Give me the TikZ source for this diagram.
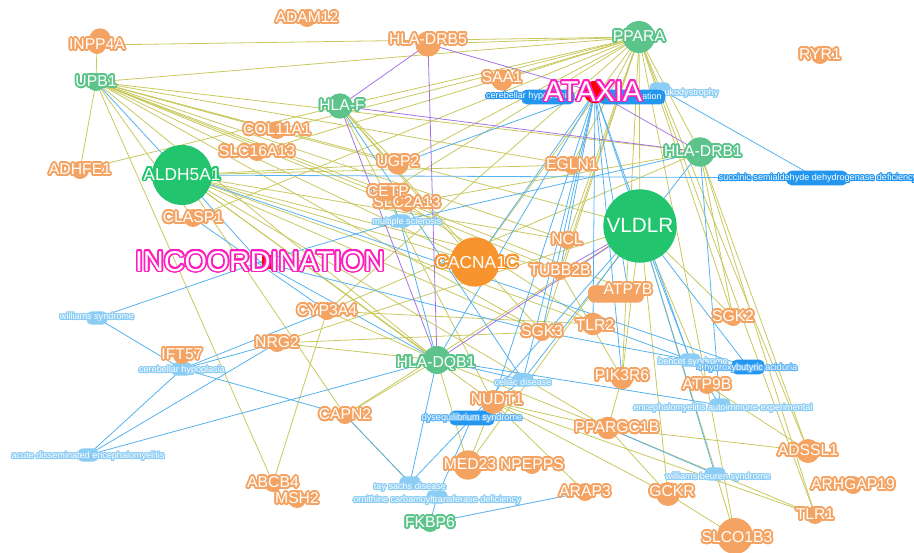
\documentclass[tikz,border=0pt]{standalone}
\usepackage{fontspec}
\setmainfont{Liberation Sans}
\usepackage{contour}
\contournumber{24}
\contourlength{1.2pt}

\definecolor{gor}{RGB}{244,163,98}
\definecolor{gorbig}{RGB}{247,148,45}
\definecolor{ggr}{RGB}{92,196,138}
\definecolor{ggrbig}{RGB}{34,197,110}
\definecolor{dlt}{RGB}{140,205,245}
\definecolor{dmid}{RGB}{95,180,245}
\definecolor{ddk}{RGB}{35,150,240}
\definecolor{phm}{RGB}{255,30,190}
\definecolor{eyel}{RGB}{200,200,95}
\definecolor{eblu}{RGB}{85,178,240}
\definecolor{epur}{RGB}{165,115,230}

\pgfdeclarelayer{edges}
\pgfsetlayers{edges,main}

\tikzset{
  odot/.style={circle, fill=gor, inner sep=0pt, minimum size=#1},
  odot/.default=13.5pt,
  gdot/.style={circle, fill=ggr, inner sep=0pt, minimum size=#1},
  gdot/.default=13.5pt,
  dblob/.style={rounded corners=4pt, fill=dlt, inner sep=0pt, minimum width=16pt, minimum height=10pt},
  dbox/.style={rounded corners=4pt, fill=ddk, inner sep=0pt, minimum width=#1, minimum height=11pt},
  gtxt/.style={text=white, inner sep=0pt, font=\fontsize{11.8}{12}\selectfont,
    execute at begin node={\contourlength{1.3pt}}},
  dtxt/.style={text=white, inner sep=0pt, font=\fontsize{6.8}{7}\selectfont,
    execute at begin node={\contourlength{0.8pt}}},
  ptxt/.style={text=white, inner sep=0pt, font=\fontsize{21.5}{22}\selectfont,
    execute at begin node={\contourlength{1.2pt}}},
  yel/.style={draw=eyel, line width=0.6pt},
  blu/.style={draw=eblu, line width=0.6pt},
  pur/.style={draw=epur, line width=0.6pt}
}

\begin{document}
\begin{tikzpicture}[x=0.75pt, y=-0.75pt]
  \useasboundingbox (0,0) rectangle (914,553);

  % Disease labels (blue)
  \node[dblob] (wsyn) at (97,318) {};
  \node[dtxt] at (wsyn) {\contour{dlt}{williams syndrome}};
  \node[dblob] (cerhypb) at (182,369) {};
  \node[dtxt] at (182,371) {\contour{dlt}{cerebellar hypoplasia}};
  \node[dblob] (adem) at (88,455) {};
  \node[dtxt] at (88,457) {\contour{dlt}{acute disseminated encephalomyelitis}};
  \node[dblob] (ms) at (400,221) {};
  \node[dtxt] at (407,223) {\contour{dlt}{multiple sclerosis}};
  \node[dblob] (celiac) at (523,380) {};
  \node[dtxt] at (523,383) {\contour{dlt}{celiac disease}};
  \node[dblob] (tay) at (410,483) {};
  \node[dtxt] at (410,488) {\contour{dlt}{tay sachs disease}};
  \node[dblob] (otc) at (437,497) {};
  \node[dtxt] at (437,501) {\contour{dlt}{ornithine carbamoyltransferase deficiency}};
  \node[dblob] (wbs) at (715,474) {};
  \node[dtxt] at (718,478) {\contour{dlt}{williams beuren syndrome}};
  \node[dblob] (eae) at (720,405) {};
  \node[dtxt] at (723,409) {\contour{dlt}{encephalomyelitis autoimmune experimental}};
  \node[dblob] (behcet) at (690,360) {};
  \node[dtxt] at (693,363) {\contour{dlt}{behcet syndrome}};
  \node[dbox=25pt] (hba) at (748,367) {};
  \node[dtxt] at (747,369) {\contour{dmid}{4 hydroxybutyric aciduria}};
  \node[dbox=34pt] (dyseq) at (472,418) {};
  \node[dtxt] at (472,419) {\contour{dmid}{dysequilibrium syndrome}};
  \node[dbox=46pt] (succ) at (817,178) {};
  \node[dtxt] at (818,179) {\contour{ddk}{succinic semialdehyde dehydrogenase deficiency}};
  \node[dblob] (leuko) at (660,89) {};
  \node[dtxt] at (688,94) {\contour{dlt}{leukodystrophy}};
  \node[dbox=50pt] (ation) at (632,97) {};
  \node[dtxt, anchor=east] at (662,97) {\contour{ddk}{ation}};
  \node[dbox=40pt] (cerhypa) at (548,97) {};
  \node[dtxt] at (529,97) {\contour{ddk}{cerebellar hypoplasia}};

  % Genes (orange)
  \node[odot] (adam) at (307,18) {};
  \node[gtxt] at (adam) {\contour{gor}{ADAM12}};
  \node[odot=16pt] (hidden1) at (100,39) {};
  \node[odot] (inpp) at (97,45) {};
  \node[gtxt] at (inpp) {\contour{gor}{INPP4A}};
  \node[odot=19pt] (drb5) at (428,44) {};
  \node[gtxt] at (428,40) {\contour{gor}{HLA-DRB5}};
  \node[odot=16pt] (saa) at (502,80) {};
  \node[gtxt] at (502,78) {\contour{gor}{SAA1}};
  \node[odot] (col) at (277,130) {};
  \node[gtxt] at (col) {\contour{gor}{COL11A1}};
  \node[odot] (slcsixteen) at (257,152) {};
  \node[gtxt] at (slcsixteen) {\contour{gor}{SLC16A13}};
  \node[odot] (adhfe) at (80,170) {};
  \node[gtxt] at (adhfe) {\contour{gor}{ADHFE1}};
  \node[odot=16pt] (ugp) at (398,164) {};
  \node[gtxt] at (398,162) {\contour{gor}{UGP2}};
  \node[odot] (egln) at (572,165) {};
  \node[gtxt] at (egln) {\contour{gor}{EGLN1}};
  \node[odot] (slctwo) at (407,203) {};
  \node[gtxt] at (slctwo) {\contour{gor}{SLC2A13}};
  \node[odot] (cetp) at (388,192) {};
  \node[gtxt] at (cetp) {\contour{gor}{CETP}};
  \node[odot] (clasp) at (193,218) {};
  \node[gtxt] at (clasp) {\contour{gor}{CLASP1}};
  \node[odot] (ncl) at (567,240) {};
  \node[gtxt] at (ncl) {\contour{gor}{NCL}};
  \node[odot] (tubb) at (560,271) {};
  \node[gtxt] at (tubb) {\contour{gor}{TUBB2B}};
  \node[odot=37pt, fill=gorbig] (cacna) at (475,262) {};
  \node[gtxt, font=\fontsize{13}{13}\selectfont] at (477,263) {\contour{gorbig}{CACNA1C}};
  \node[rounded corners=5pt, fill=gor, minimum width=42pt, minimum height=13pt] (hidden2) at (616,294) {};
  \node[odot] (atp7b) at (628,290) {};
  \node[gtxt] at (atp7b) {\contour{gor}{ATP7B}};
  \node[odot] (cyp) at (327,311) {};
  \node[gtxt] at (cyp) {\contour{gor}{CYP3A4}};
  \node[odot] (nrg) at (277,343) {};
  \node[gtxt] at (nrg) {\contour{gor}{NRG2}};
  \node[odot] (sgkthree) at (542,332) {};
  \node[gtxt] at (sgkthree) {\contour{gor}{SGK3}};
  \node[odot=17pt] (tlrtwo) at (593,324) {};
  \node[gtxt] at (595,326) {\contour{gor}{TLR2}};
  \node[odot] (sgktwo) at (733,317) {};
  \node[gtxt] at (sgktwo) {\contour{gor}{SGK2}};
  \node[odot] (ift) at (182,355) {};
  \node[gtxt] at (ift) {\contour{gor}{IFT57}};
  \node[odot=17pt] (pik) at (622,378) {};
  \node[gtxt] at (622,376) {\contour{gor}{PIK3R6}};
  \node[odot] (atpnine) at (707,385) {};
  \node[gtxt] at (atpnine) {\contour{gor}{ATP9B}};
  \node[odot=18pt] (nudt) at (493,402) {};
  \node[gtxt] at (497,400) {\contour{gor}{NUDT1}};
  \node[odot] (capn) at (345,415) {};
  \node[gtxt] at (capn) {\contour{gor}{CAPN2}};
  \node[odot=17pt] (ppargc) at (608,428) {};
  \node[gtxt] at (617,428) {\contour{gor}{PPARGC1B}};
  \node[odot=18pt] (adssl) at (808,451) {};
  \node[gtxt] at (adssl) {\contour{gor}{ADSSL1}};
  \node[odot=22pt] (med) at (468,465) {};
  \node[gtxt] at (470,465) {\contour{gor}{MED23}};
  \node[odot] (npepps) at (532,465) {};
  \node[gtxt] at (npepps) {\contour{gor}{NPEPPS}};
  \node[odot] (abcb) at (273,483) {};
  \node[gtxt] at (abcb) {\contour{gor}{ABCB4}};
  \node[odot] (msh) at (297,499) {};
  \node[gtxt] at (msh) {\contour{gor}{MSH2}};
  \node[odot] (arap) at (585,492) {};
  \node[gtxt] at (arap) {\contour{gor}{ARAP3}};
  \node[odot] (arhgap) at (853,485) {};
  \node[gtxt] at (arhgap) {\contour{gor}{ARHGAP19}};
  \node[odot=18pt] (gckr) at (668,494) {};
  \node[gtxt] at (672,492) {\contour{gor}{GCKR}};
  \node[odot] (tlrone) at (815,515) {};
  \node[gtxt] at (tlrone) {\contour{gor}{TLR1}};
  \node[odot=27pt] (slco) at (735,536) {};
  \node[gtxt] at (737,538) {\contour{gor}{SLCO1B3}};
  \node[odot] (ryr) at (820,55) {};
  \node[gtxt] at (ryr) {\contour{gor}{RYR1}};

  % Genes (green)
  \node[gdot=24pt] (ppara) at (639,37) {};
  \node[gtxt] at (ppara) {\contour{ggr}{PPARA}};
  \node[gdot] (upb) at (96,82) {};
  \node[gtxt] at (upb) {\contour{ggr}{UPB1}};
  \node[gdot=19pt] (hlaf) at (340,106) {};
  \node[gtxt] at (342,106) {\contour{ggr}{HLA-F}};
  \node[gdot=22pt] (drbone) at (700,152) {};
  \node[gtxt] at (703,152) {\contour{ggr}{HLA-DRB1}};
  \node[gdot=45pt, fill=ggrbig] (aldh) at (182,175) {};
  \node[gtxt, font=\fontsize{13}{13}\selectfont] at (aldh) {\contour{ggrbig}{ALDH5A1}};
  \node[gdot=55pt, fill=ggrbig] (vldlr) at (640,226) {};
  \node[gtxt, font=\fontsize{15.5}{16}\selectfont] at (vldlr) {\contour{ggrbig}{VLDLR}};
  \node[gdot=21pt] (dqb) at (437,360) {};
  \node[gtxt] at (436,364) {\contour{ggr}{HLA-DQB1}};
  \node[gdot] (fkbp) at (430,523) {};
  \node[gtxt] at (fkbp) {\contour{ggr}{FKBP6}};

  % Phenotypes
  \fill[red] (262,255) rectangle (271,269);
  \node[inner sep=0pt] (incoord) at (260,262) {};
  \node[ptxt] at (incoord) {\contour{phm}{INCOORDINATION}};
  \node[circle, fill=red, inner sep=0pt, minimum size=17pt] (ataxia) at (595,92) {};
  \node[ptxt] at (593,92) {\contour{phm}{ATAXIA}};

  % Connectors
  \begin{pgfonlayer}{edges}
    \foreach \a/\b in {upb/inpp, upb/adhfe, upb/ppara, inpp/ppara, adhfe/hlaf, upb/abcb,
        upb/col, upb/ugp, upb/cetp, upb/cacna, upb/ncl, upb/vldlr, upb/drbone, upb/sgkthree,
        upb/dqb, upb/tubb, upb/atp7b, upb/egln, upb/clasp,
        ppara/hlaf, ppara/drb5, ppara/saa, ppara/slcsixteen, ppara/clasp, ppara/ugp, ppara/egln,
        ppara/cetp, ppara/drbone, ppara/vldlr, ppara/tubb, ppara/ncl, ppara/sgktwo, ppara/adssl,
        ppara/tlrone, ppara/atpnine, ppara/pik, ppara/cyp, ppara/sgkthree, ppara/cacna, ppara/col,
        aldh/dqb, aldh/cacna, aldh/ncl, aldh/sgkthree, aldh/nudt, aldh/tlrtwo, aldh/capn, aldh/ugp,
        aldh/egln, aldh/ppargc, aldh/tubb,
        hlaf/ugp, hlaf/cacna, hlaf/sgkthree, hlaf/nudt,
        drbone/adssl, drbone/tlrone, drbone/sgktwo, drbone/cyp, drbone/slctwo,
        vldlr/sgktwo, vldlr/atpnine, vldlr/pik, vldlr/gckr, vldlr/slco, vldlr/med, vldlr/nrg,
        vldlr/capn,
        dqb/cyp, dqb/nrg, dqb/capn, dqb/ppargc, dqb/med,
        pik/ppargc, ppargc/gckr, ppargc/adssl, ppargc/tlrone, atpnine/slco, atpnine/adssl,
        gckr/slco, nudt/gckr, nudt/arap, nudt/med, nudt/ppargc, nudt/tlrone, abcb/cyp,
        capn/tay, cyp/tlrtwo, nrg/sgkthree, tubb/pik, cetp/tlrtwo}
      \draw[yel] (\a.center) -- (\b.center);
    \foreach \a/\b in {upb/aldh, aldh/succ, aldh/incoord, wsyn/incoord, wsyn/cerhypb,
        cerhypb/nrg, cerhypb/cyp, cerhypb/capn, adem/cerhypb, adem/nrg, adem/dqb,
        ataxia/vldlr, ataxia/dqb, ataxia/celiac, ataxia/nudt, ataxia/sgkthree, ataxia/tlrtwo,
        ataxia/pik, ataxia/behcet, ataxia/atp7b, ataxia/tubb, ataxia/cacna, ataxia/ugp,
        leuko/succ, hlaf/celiac, ms/dqb, ms/cetp, ms/drbone, ms/incoord,
        celiac/dqb, celiac/drbone, celiac/nudt, dyseq/vldlr, dyseq/tay, dyseq/nudt, dyseq/otc,
        behcet/tlrtwo, behcet/sgkthree, behcet/vldlr, hba/aldh, hba/vldlr,
        eae/atpnine, eae/dqb, eae/drbone, wbs/ppargc, wbs/vldlr, tay/dqb, otc/fkbp,
        fkbp/arap, tay/capn, clasp/cyp, incoord/sgkthree, incoord/dqb}
      \draw[blu] (\a.center) -- (\b.center);
    \foreach \a/\b in {drb5/hlaf, drb5/ataxia, drb5/dqb, hlaf/dqb, hlaf/drbone,
        ataxia/drbone, dqb/vldlr, tubb/vldlr}
      \draw[pur] (\a.center) -- (\b.center);
  \end{pgfonlayer}
\end{tikzpicture}
\end{document}
